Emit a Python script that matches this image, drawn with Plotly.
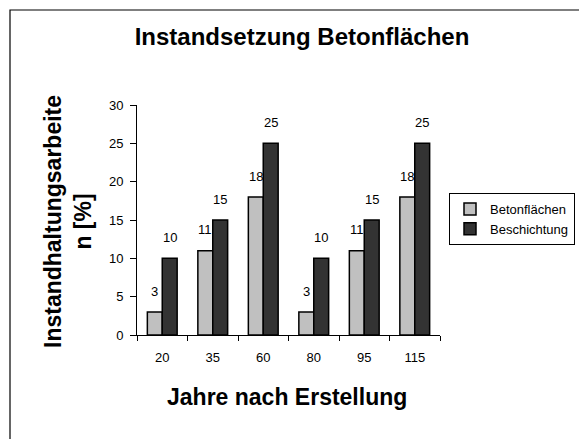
import plotly.graph_objects as go

# Chart data
years = ["20", "35", "60", "80", "95", "115"]
betonflaechen = [3, 11, 18, 3, 11, 18]
beschichtung = [10, 15, 25, 10, 15, 25]
series_names = ["Betonflächen", "Beschichtung"]

W, H = 579, 439
L, R, T, B = 137, 139, 105, 104
plot_w = W - L - R
plot_h = H - T - B


def px_x(px):
    return (px - L) / plot_w


def px_y(py):
    return (H - B - py) / plot_h


FONT = "Arial, Liberation Sans, sans-serif"
BARGAP = 0.41

fig = go.Figure()
fig.add_trace(go.Bar(
    name=series_names[0], x=years, y=betonflaechen,
    marker=dict(color="#c0c0c0", line=dict(color="black", width=1.5)),
))
fig.add_trace(go.Bar(
    name=series_names[1], x=years, y=beschichtung,
    marker=dict(color="#333333", line=dict(color="black", width=1.5)),
))

# value labels above each bar (grouped bars sit half a bar width off centre);
# on a category axis the annotation x is the category index
bar_px = plot_w / len(years) * (1 - BARGAP) / 2
annotations = []
for vals, shift in ((betonflaechen, -bar_px / 2), (beschichtung, bar_px / 2)):
    for i, v in enumerate(vals):
        annotations.append(dict(
            x=i, y=v, xref="x", yref="y", text=str(v), showarrow=False,
            xshift=shift, yshift=21, yanchor="middle",
            font=dict(family=FONT, size=13, color="black"),
        ))

# axis titles
annotations.append(dict(
    x=px_x(68), y=px_y(222), xref="paper", yref="paper",
    text="<b>Instandhaltungsarbeite<br>n [%]</b>", showarrow=False,
    textangle=-90, xanchor="center", yanchor="middle",
    font=dict(family=FONT, size=23, color="black"),
))
annotations.append(dict(
    x=px_x(287), y=px_y(397), xref="paper", yref="paper",
    text="<b>Jahre nach Erstellung</b>", showarrow=False,
    xanchor="center", yanchor="middle",
    font=dict(family=FONT, size=23, color="black"),
))

fig.update_layout(
    width=W, height=H,
    margin=dict(l=L, r=R, t=T, b=B, autoexpand=False),
    paper_bgcolor="white", plot_bgcolor="white",
    barmode="group", bargap=BARGAP, bargroupgap=0,
    title=dict(
        text="<b>Instandsetzung Betonflächen</b>",
        x=px_x(302), xref="paper", xanchor="center",
        y=1 - 37 / H, yref="container", yanchor="middle",
        font=dict(family=FONT, size=24, color="black"),
    ),
    font=dict(family=FONT, size=13, color="black"),
    showlegend=True,
    legend=dict(
        x=px_x(449), y=px_y(193), xref="paper", yref="paper",
        xanchor="left", yanchor="top",
        bordercolor="black", borderwidth=1, bgcolor="white",
        font=dict(family=FONT, size=13, color="black"),
        itemwidth=30, tracegroupgap=0,
    ),
    annotations=annotations,
    shapes=[dict(
        type="rect", xref="paper", yref="paper",
        x0=px_x(10), x1=px_x(620), y0=px_y(480), y1=px_y(10),
        line=dict(color="black", width=1.2), fillcolor="rgba(0,0,0,0)",
        layer="below",
    )],
)

fig.update_xaxes(
    type="category", showline=True, linecolor="black", linewidth=1,
    ticks="outside", tickson="boundaries", ticklen=5, tickcolor="black",
    showgrid=False, zeroline=False, ticklabelstandoff=10,
    tickfont=dict(family=FONT, size=13, color="black"),
)
fig.update_yaxes(
    range=[0, 30], dtick=5, showline=True, linecolor="black", linewidth=1,
    ticks="outside", ticklen=6, tickcolor="black",
    showgrid=False, zeroline=False, ticklabelstandoff=4,
    tickfont=dict(family=FONT, size=13, color="black"),
)

fig.write_html("out.html")
